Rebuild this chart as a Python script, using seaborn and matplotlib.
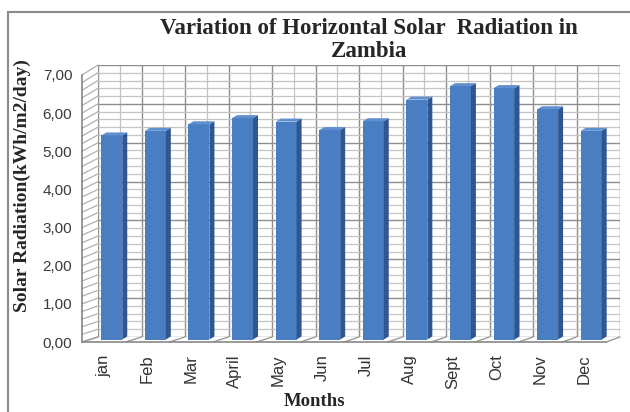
import numpy as np
import matplotlib
matplotlib.use('Agg')
import matplotlib.pyplot as plt
import seaborn as sns
from matplotlib.patches import Polygon, Rectangle
from matplotlib.lines import Line2D
from matplotlib.transforms import IdentityTransform

# datos
months = ['jan', 'Feb', 'Mar', 'April', 'May', 'Jun', 'Jul', 'Aug', 'Sept', 'Oct', 'Nov', 'Dec']
radiation = [5.30, 5.42, 5.59, 5.75, 5.66, 5.44, 5.67, 6.23, 6.58, 6.53, 5.98, 5.42]
y_ticks = [0, 1, 2, 3, 4, 5, 6, 7]
y_tick_labels = ['0,00', '1,00', '2,00', '3,00', '4,00', '5,00', '6,00', '7,00']

W, H = 630, 412
sns.set_style('white')
plt.rcParams['font.family'] = ['Liberation Sans', 'DejaVu Sans']

fig = plt.figure(figsize=(W / 100, H / 100), dpi=100)


def box(x0, x1, y_top, y_bot):
    # pixel box -> figure fraction
    return [x0 / W, 1 - y_bot / H, (x1 - x0) / W, (y_bot - y_top) / H]


ax_back = fig.add_axes(box(98, 620, 65, 337), zorder=0)
ax_mid = fig.add_axes(box(90, 613, 70, 339.5), zorder=1)
ax_front = fig.add_axes(box(82, 606, 75, 342), zorder=2)

n = len(months)
bounds = np.arange(n + 1) - 0.5
minor_y = np.arange(0, 7.001, 0.2)

# pared del fondo con rejilla
ax_back.set_xlim(-0.5, n - 0.5)
ax_back.set_ylim(0, 7)
ax_back.set_yticks(y_ticks)
ax_back.set_yticks(minor_y, minor=True)
ax_back.set_xticks(bounds)
ax_back.set_xticks(np.arange(n), minor=True)
ax_back.grid(which='major', color='#8e8e8e', lw=1.0)
ax_back.grid(which='minor', color='#c4c4c4', lw=0.9)
ax_back.tick_params(which='both', length=0, labelbottom=False, labelleft=False)
for s in ax_back.spines.values():
    s.set_visible(False)

ax_front.set_xlim(-0.5, n - 0.5)
ax_front.set_ylim(0, 7)


def px(ax, x, y):
    return ax.transData.transform((x, y))


# pared lateral y suelo
for v in minor_y:
    p0, p1 = px(ax_front, -0.5, v), px(ax_back, -0.5, v)
    fig.add_artist(Line2D([p0[0], p1[0]], [p0[1], p1[1]], transform=IdentityTransform(),
                          color='#b0b0b0', lw=0.9, zorder=0.5))
for b in bounds:
    p0, p1 = px(ax_front, b, 0), px(ax_back, b, 0)
    fig.add_artist(Line2D([p0[0], p1[0]], [p0[1], p1[1]], transform=IdentityTransform(),
                          color='#9a9a9a', lw=1.0, zorder=0.5))

# barras
sns.barplot(x=months, y=radiation, ax=ax_mid, color='#4a7ec2', width=0.48,
            saturation=1, edgecolor='none')
ax_mid.set_xlim(-0.5, n - 0.5)
ax_mid.set_ylim(0, 7)
ax_mid.axis('off')

dx, dy = 5, 3
for p in ax_mid.patches:
    x0, x1 = p.get_x(), p.get_x() + p.get_width()
    h = p.get_height()
    a = px(ax_mid, x1, 0)
    b = px(ax_mid, x1, h)
    c = px(ax_mid, x0, h)
    side = [a, b, b + [dx, dy], a + [dx, dy]]
    top = [c, b, b + [dx, dy], c + [dx, dy]]
    fig.add_artist(Polygon(side, closed=True, transform=IdentityTransform(),
                           fc='#2f5690', ec='none', zorder=1.5))
    fig.add_artist(Polygon(top, closed=True, transform=IdentityTransform(),
                           fc='#5f8fcf', ec='none', zorder=1.5))

# ejes delanteros
ax_front.patch.set_visible(False)
ax_front.spines['top'].set_visible(False)
ax_front.spines['right'].set_visible(False)
for s in ['left', 'bottom']:
    ax_front.spines[s].set_color('#878787')
    ax_front.spines[s].set_linewidth(1.2)
ax_front.set_yticks(y_ticks)
ax_front.set_yticklabels(y_tick_labels)
ax_front.set_xticks(bounds)
ax_front.set_xticklabels([])
ax_front.set_xticks(np.arange(n), minor=True)
ax_front.set_xticklabels(months, minor=True, rotation=90)
ax_front.tick_params(which='major', direction='out', length=5, width=1.2, color='#878787',
                     labelsize=11, labelcolor='#3a3a3a', pad=2)
ax_front.tick_params(axis='x', which='minor', length=0, labelsize=12,
                     labelcolor='#333333', pad=9)

serif = ['Liberation Serif', 'DejaVu Serif']
fig.text(369 / W, 1 - 40 / H, 'Variation of Horizontal Solar  Radiation in\nZambia',
         ha='center', va='center', fontsize=16.5, fontweight='bold', family=serif,
         linespacing=1.15)
fig.text(22 / W, 1 - 186 / H, 'Solar Radiation(kWh/m2/day)', rotation=90,
         ha='center', va='center', fontsize=14, fontweight='bold', family=serif)
fig.text(315 / W, 1 - 401 / H, 'Months', ha='center', va='center',
         fontsize=13.5, fontweight='bold', family=serif)

fig.add_artist(Rectangle((8 / W, -0.1), 1.2, 1 - 12 / H + 0.1, transform=fig.transFigure,
                         fill=False, ec='#8a8a8a', lw=1.5, zorder=3))

fig.savefig('out.png', dpi=100)
